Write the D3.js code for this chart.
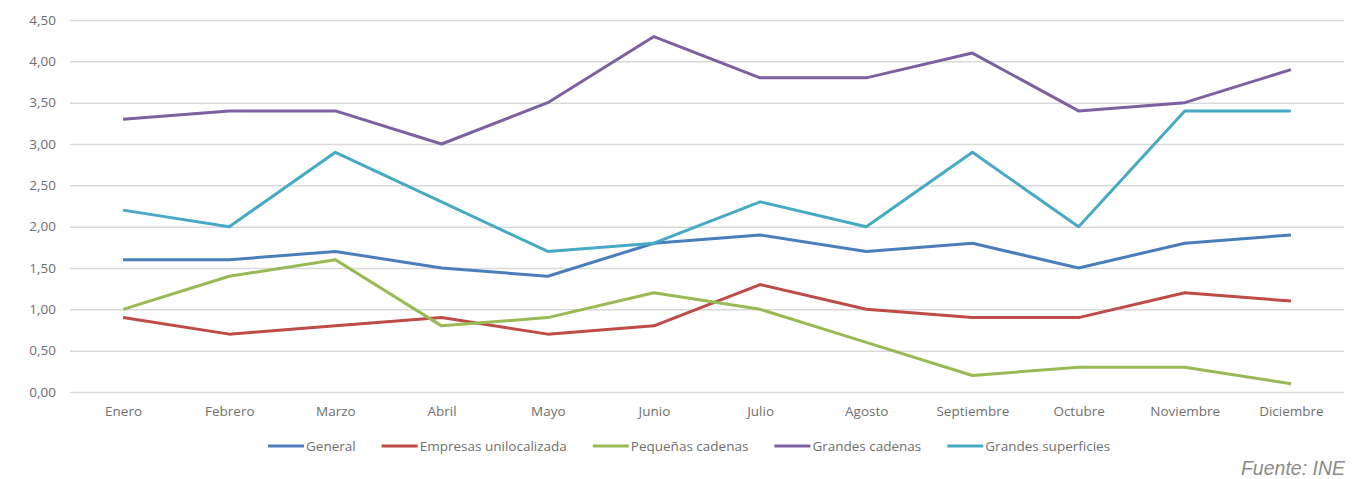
<!DOCTYPE html>
<html>
<head>
<meta charset="utf-8">
<script src="https://cdn.jsdelivr.net/npm/d3@7"></script>
<style>
  body { margin: 0; background: #fff; }
  svg text { font-family: "Open Sans", "DejaVu Sans", sans-serif; }
</style>
</head>
<body>
<svg width="1364" height="479"></svg>
<script>
var months = ["Enero", "Febrero", "Marzo", "Abril", "Mayo", "Junio", "Julio", "Agosto", "Septiembre", "Octubre", "Noviembre", "Diciembre"];
var yTicks = [0, 0.5, 1, 1.5, 2, 2.5, 3, 3.5, 4, 4.5];

var general = [1.6, 1.6, 1.7, 1.5, 1.4, 1.8, 1.9, 1.7, 1.8, 1.5, 1.8, 1.9];
var empresasUnilocalizada = [0.9, 0.7, 0.8, 0.9, 0.7, 0.8, 1.3, 1.0, 0.9, 0.9, 1.2, 1.1];
var pequenasCadenas = [1.0, 1.4, 1.6, 0.8, 0.9, 1.2, 1.0, 0.6, 0.2, 0.3, 0.3, 0.1];
var grandesCadenas = [3.3, 3.4, 3.4, 3.0, 3.5, 4.3, 3.8, 3.8, 4.1, 3.4, 3.5, 3.9];
var grandesSuperficies = [2.2, 2.0, 2.9, 2.3, 1.7, 1.8, 2.3, 2.0, 2.9, 2.0, 3.4, 3.4];

var series = [
  { name: "General", values: general, color: "#4a7ebb" },
  { name: "Empresas unilocalizada", values: empresasUnilocalizada, color: "#be4b48" },
  { name: "Pequeñas cadenas", values: pequenasCadenas, color: "#98b954" },
  { name: "Grandes cadenas", values: grandesCadenas, color: "#7d60a0" },
  { name: "Grandes superficies", values: grandesSuperficies, color: "#46aac5" }
];

var svg = d3.select("svg");

var x = d3.scalePoint()
    .domain(months)
    .range([70, 1344])
    .padding(0.5);

var y = d3.scaleLinear()
    .domain([0, 4.5])
    .range([392, 20]);

var fmt = function(d) { return d3.format(".2f")(d).replace(".", ","); };

// gridlines + y labels
var yAxis = svg.append("g")
    .attr("transform", "translate(70,0)")
    .call(d3.axisLeft(y).tickValues(yTicks).tickFormat(fmt).tickSize(-1274).tickPadding(14));
yAxis.select(".domain").remove();
yAxis.selectAll(".tick line").attr("stroke", "#d9d9d9").attr("stroke-width", 1.5);
yAxis.selectAll(".tick text").attr("fill", "#6f6f6f").style("font-size", "13.5px");

// x labels
var xAxis = svg.append("g")
    .attr("transform", "translate(0,392)")
    .call(d3.axisBottom(x).tickSize(0).tickPadding(14));
xAxis.select(".domain").remove();
xAxis.selectAll(".tick text").attr("fill", "#6f6f6f").style("font-size", "13.5px");

var line = d3.line()
    .x(function(d, i) { return x(months[i]); })
    .y(function(d) { return y(d); });

svg.append("g")
  .selectAll("path")
  .data(series)
  .enter().append("path")
    .attr("fill", "none")
    .attr("stroke", function(d) { return d.color; })
    .attr("stroke-width", 3)
    .attr("stroke-linejoin", "round")
    .attr("d", function(d) { return line(d.values); });

// legend
var legend = svg.append("g").attr("transform", "translate(268,446)");
var lx = 0;
series.forEach(function(s) {
  var g = legend.append("g").attr("transform", "translate(" + lx + ",0)");
  g.append("line")
      .attr("x1", 0).attr("x2", 36)
      .attr("stroke", s.color).attr("stroke-width", 3);
  var t = g.append("text")
      .attr("x", 38).attr("dy", "0.35em")
      .attr("fill", "#6f6f6f")
      .style("font-size", "13.5px")
      .text(s.name);
  lx += 38 + t.node().getComputedTextLength() + 26;
});

svg.append("text")
    .attr("x", 1345).attr("y", 475)
    .attr("text-anchor", "end")
    .attr("fill", "#8a8a8a")
    .style("font-family", "'Liberation Sans', Arial, sans-serif")
    .style("font-size", "19.5px")
    .style("font-style", "italic")
    .text("Fuente: INE");
</script>
</body>
</html>
